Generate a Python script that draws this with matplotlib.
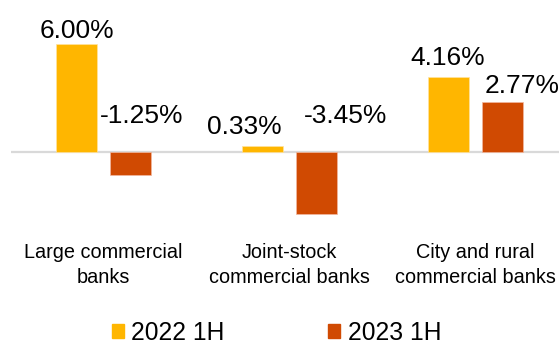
import numpy as np
import matplotlib
matplotlib.use("Agg")
import matplotlib.pyplot as plt
from matplotlib.patches import Patch

plt.rcParams['font.family'] = ['Liberation Sans', 'DejaVu Sans']

# growth by bank type, half-year
categories = ['Large commercial\nbanks', 'Joint-stock\ncommercial banks', 'City and rural\ncommercial banks']
series_names = ['2022 1H', '2023 1H']
vals_2022 = [6.00, 0.33, 4.16]
vals_2023 = [-1.25, -3.45, 2.77]

colors = ['#FFB600', '#D04A02']

W, H = 559, 344
fig = plt.figure(figsize=(W / 100, H / 100), dpi=100)
# axes run a bit past the right edge, like the original slide crop
ax = fig.add_axes([10.5 / W, (H - 230) / H, 558 / W, 230 / H])

x = np.arange(len(categories))
bw = 0.22
off = 0.144
b1 = ax.bar(x - off, vals_2022, bw, color=colors[0], edgecolor='#FFE3A0', linewidth=0.5)
b2 = ax.bar(x + off, vals_2023, bw, color=colors[1], edgecolor='#F2B8A0', linewidth=0.5)

ax.set_xlim(-0.5, 2.5)
ax.set_ylim(-(230 - 152) / 18, 152 / 18)
ax.axhline(0, color='#D9D9D9', lw=1.6, zorder=0)
for s in ax.spines.values():
    s.set_visible(False)
ax.set_yticks([])
ax.set_xticks(x)
ax.set_xticklabels(categories, fontsize=14.3, linespacing=1.38)
ax.tick_params(axis='x', length=0, pad=9.5)

# value labels; nudges (points) keep labels apart and inside the plot
nudge_2022 = [(0, 0.5), (-13, 5), (-1, 5)]
nudge_2023 = [(8, 17), (21, 17.5), (14, 3)]
for i, v in enumerate(vals_2022):
    ax.annotate(f'{v:.2f}%', (x[i] - off, max(v, 0)), xytext=nudge_2022[i],
                textcoords='offset points', ha='center', va='bottom', fontsize=19)
for i, v in enumerate(vals_2023):
    ax.annotate(f'{v:.2f}%', (x[i] + off, max(v, 0)), xytext=nudge_2023[i],
                textcoords='offset points', ha='center', va='bottom', fontsize=19)

handles = [Patch(color=c) for c in colors]
fig.legend(handles, series_names, loc='center', bbox_to_anchor=(276.5 / W, 1 - 332.5 / H),
           ncol=2, frameon=False, fontsize=17.7, handlelength=0.5, handleheight=0.5,
           handletextpad=0.3, columnspacing=4.2, borderpad=0)

fig.savefig('out.png', dpi=100)
